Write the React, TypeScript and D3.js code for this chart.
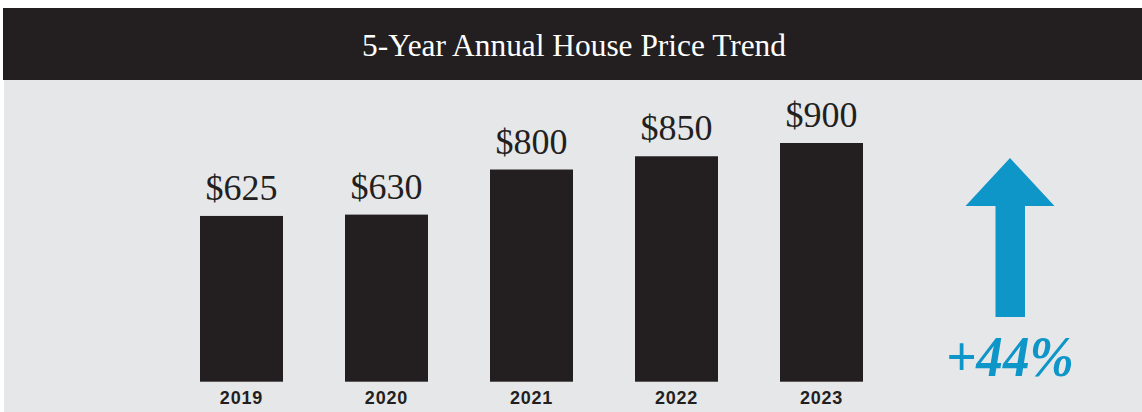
import React from "react";
import * as d3 from "d3";

const title = "5-Year Annual House Price Trend";
const years = ["2019", "2020", "2021", "2022", "2023"];
const prices = [625, 630, 800, 850, 900];
const changeLabel = "+44%";

const W = 1142;
const H = 412;
const dark = "#231f20";
const gray = "#e6e7e9";
const blue = "#0f96c8";

export default function App() {
  const x = d3.scaleBand<string>().domain(years).range([200, 863]).paddingInner(0.4276).paddingOuter(0);
  const y = d3.scaleLinear().domain([0, 900]).range([381.7, 143]);

  // arrow geometry
  const ax = 1010;
  const arrow = d3.path();
  arrow.moveTo(ax, 158);
  arrow.lineTo(ax + 44.5, 206);
  arrow.lineTo(ax + 15, 206);
  arrow.lineTo(ax + 15, 317);
  arrow.lineTo(ax - 14.5, 317);
  arrow.lineTo(ax - 14.5, 206);
  arrow.lineTo(ax - 44.5, 206);
  arrow.closePath();

  return (
    <svg width={W} height={H} style={{ position: "absolute", left: 0, top: 0 }}>
      <rect x={0} y={0} width={W} height={H} fill="#ffffff" />
      <rect x={4} y={80} width={W - 4} height={H - 80} fill={gray} />
      <rect x={3} y={8} width={W - 3} height={72} fill={dark} />
      <text
        x={574}
        y={56}
        textAnchor="middle"
        fill="#ffffff"
        fontFamily="Liberation Serif, serif"
        fontSize={32}
        textLength={424}
        lengthAdjust="spacingAndGlyphs"
      >
        {title}
      </text>
      {years.map((yr, i) => (
        <g key={yr}>
          <rect x={x(yr)} y={y(prices[i])} width={x.bandwidth()} height={y(0) - y(prices[i])} fill={dark} />
          <text
            x={(x(yr) as number) + x.bandwidth() / 2}
            y={y(prices[i]) - 16}
            textAnchor="middle"
            fill={dark}
            fontFamily="Liberation Serif, serif"
            fontSize={36}
          >
            {"$" + prices[i]}
          </text>
          <text
            x={(x(yr) as number) + x.bandwidth() / 2}
            y={404}
            textAnchor="middle"
            fill={dark}
            fontFamily="Liberation Sans, Arial, sans-serif"
            fontWeight="bold"
            fontSize={18}
            letterSpacing={0.8}
          >
            {yr}
          </text>
        </g>
      ))}
      <path d={arrow.toString()} fill={blue} />
      <text
        x={1010}
        y={376}
        textAnchor="middle"
        fill={blue}
        fontFamily="Liberation Serif, serif"
        fontWeight="bold"
        fontStyle="italic"
        fontSize={58}
        textLength={128}
        lengthAdjust="spacingAndGlyphs"
      >
        {changeLabel}
      </text>
    </svg>
  );
}
